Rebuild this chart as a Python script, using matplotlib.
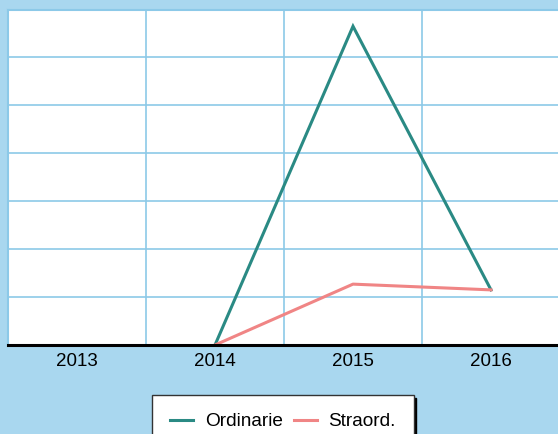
import numpy as np
import matplotlib
matplotlib.use("Agg")
import matplotlib.pyplot as plt

BG = "#a9d7ef"
GRID = "#8cc9e8"
TEAL = "#2a8a84"
PINK = "#f08585"

years = ["2013", "2014", "2015", "2016"]
ordinarie = [np.nan, 0.0, 6.65, 1.15]
straord = [np.nan, 0.0, 1.27, 1.15]

plt.rcParams["font.family"] = ["Liberation Sans", "DejaVu Sans"]

fig = plt.figure(figsize=(5.58, 4.34), dpi=100, facecolor=BG)
ax = fig.add_axes([8 / 558, 89 / 434, 552 / 558, 335.5 / 434])
ax.set_facecolor("white")

x = np.arange(len(years))
ax.plot(x, ordinarie, color=TEAL, lw=2.2, label="Ordinarie", solid_joinstyle="miter")
ax.plot(x, straord, color=PINK, lw=2.2, label="Straord.")

ax.set_xlim(-0.5, 3.5)
ax.set_ylim(0, 7)
ax.set_xticks(x, years)
ax.set_xticks(np.arange(-0.5, 4, 1), minor=True)
ax.set_yticks(np.arange(0, 8, 1))
ax.tick_params(axis="x", which="both", length=0, pad=6, labelsize=13.5)
ax.tick_params(axis="y", length=0, labelleft=False)
ax.grid(True, axis="y", color=GRID, lw=1.2)
ax.grid(True, axis="x", which="minor", color=GRID, lw=1.2)
ax.grid(False, axis="x", which="major")
ax.set_axisbelow(True)

for side in ["top", "left", "right"]:
    ax.spines[side].set_color(GRID)
    ax.spines[side].set_linewidth(1.5)
ax.spines["bottom"].set_color("black")
ax.spines["bottom"].set_linewidth(2.2)
ax.spines["bottom"].set_zorder(5)

leg = fig.legend(loc="upper center", bbox_to_anchor=(283 / 558, 39 / 434), ncol=2,
                 fontsize=13.7, frameon=True, fancybox=False, handlelength=1.2,
                 handletextpad=0.6, columnspacing=0.6, borderpad=0.95, borderaxespad=0,
                 shadow={"ox": 2, "oy": -2, "color": "black", "alpha": 1})
leg.get_frame().set_edgecolor("#333333")
leg.get_frame().set_linewidth(1.0)

fig.savefig("out.png", dpi=100, facecolor=BG)
